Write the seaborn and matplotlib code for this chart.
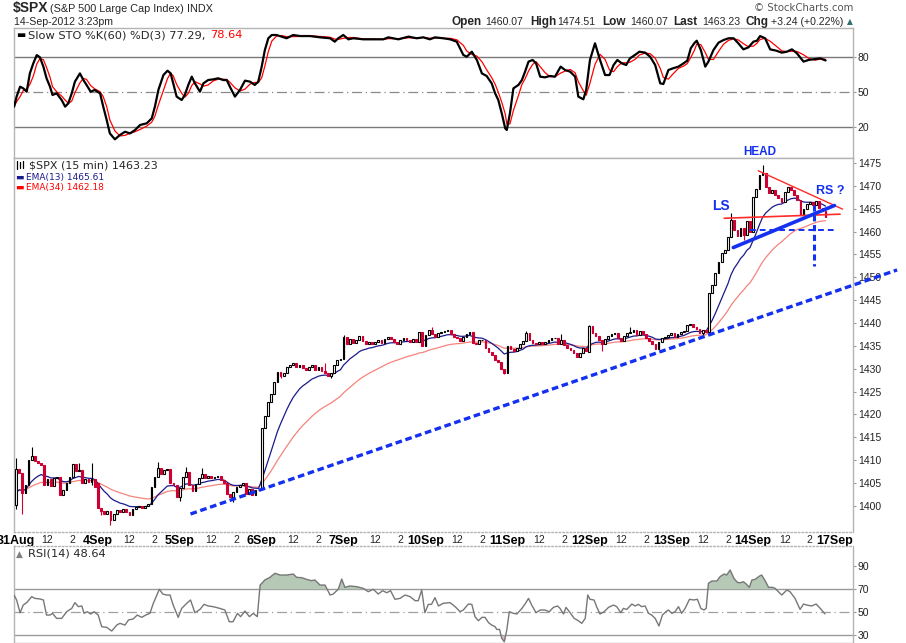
import matplotlib
matplotlib.use("Agg")
import matplotlib.pyplot as plt
import numpy as np
import pandas as pd
import seaborn as sns

W, H = 906, 643

# time axis: 15 min bars, 26 bars per session
day_names = ["31Aug", "4Sep", "5Sep", "6Sep", "7Sep", "10Sep", "11Sep", "12Sep", "13Sep", "14Sep", "17Sep"]
bars_per_day = 26
intraday_ticks = {10: "12", 18: "2"}

# first open of each session
day_opens = [1400.1, 1404.9, 1402.0, 1403.7, 1432.1, 1434.9, 1429.1, 1433.6, 1437.3, 1460.0]

# closes per session
close_aug31 = [1408.0, 1407.1, 1402.7, 1404.5, 1410.0, 1410.8, 1409.8, 1409.4, 1409.0, 1404.5,
               1405.8, 1404.3, 1406.0, 1406.4, 1402.4, 1403.4, 1405.0, 1406.4, 1409.2, 1407.6,
               1407.9, 1404.9, 1405.8, 1405.2, 1405.8, 1404.2]
close_sep04 = [1399.5, 1398.8, 1398.3, 1398.8, 1396.9, 1398.2, 1399.1, 1398.6, 1399.4, 1398.7,
               1398.0, 1399.4, 1399.8, 1400.0, 1399.6, 1400.0, 1400.3, 1404.2, 1406.4, 1408.2,
               1407.0, 1407.8, 1408.0, 1405.0, 1404.5, 1402.0]
close_sep05 = [1403.8, 1406.4, 1407.3, 1404.5, 1403.2, 1404.7, 1406.0, 1406.9, 1406.0, 1406.6,
               1406.0, 1406.4, 1406.6, 1405.6, 1404.9, 1402.5, 1402.0, 1403.0, 1404.2, 1404.6,
               1404.9, 1402.5, 1403.7, 1402.4, 1403.5, 1403.4]
close_sep06 = [1417.0, 1419.6, 1422.7, 1424.5, 1427.0, 1429.3, 1428.3, 1429.1, 1430.4, 1430.7,
               1431.2, 1430.3, 1430.9, 1430.1, 1429.6, 1430.4, 1430.9, 1429.7, 1430.3, 1429.5,
               1429.0, 1428.5, 1429.0, 1430.8, 1432.0, 1432.1]
close_sep07 = [1437.0, 1435.3, 1436.4, 1435.6, 1436.2, 1437.2, 1436.0, 1435.4, 1435.9, 1435.3,
               1435.9, 1436.2, 1435.6, 1436.5, 1437.0, 1436.4, 1435.8, 1435.5, 1436.2, 1436.8,
               1436.3, 1435.9, 1436.4, 1435.9, 1438.0, 1434.9]
close_sep10 = [1437.4, 1438.5, 1437.6, 1437.0, 1437.8, 1438.0, 1438.3, 1438.5, 1437.5, 1436.9,
               1436.6, 1436.1, 1437.0, 1437.6, 1438.0, 1435.6, 1435.4, 1436.2, 1436.3, 1434.6,
               1433.6, 1433.0, 1432.0, 1431.5, 1430.0, 1429.1]
close_sep11 = [1434.9, 1434.4, 1433.8, 1434.6, 1435.5, 1436.0, 1437.9, 1436.3, 1435.7, 1435.3,
               1435.9, 1435.4, 1435.9, 1436.3, 1436.6, 1436.8, 1435.3, 1436.2, 1435.1, 1434.5,
               1434.1, 1433.4, 1432.6, 1433.4, 1434.5, 1433.9]
close_sep12 = [1439.3, 1437.8, 1437.1, 1436.3, 1435.3, 1436.5, 1437.2, 1437.6, 1437.8, 1436.8,
               1436.0, 1437.1, 1437.7, 1438.1, 1438.4, 1437.4, 1438.2, 1437.6, 1436.8, 1436.0,
               1435.5, 1434.2, 1435.9, 1436.6, 1437.0, 1437.3]
close_sep13 = [1437.8, 1437.0, 1437.6, 1438.1, 1438.2, 1439.6, 1439.8, 1439.2, 1438.6, 1437.8,
               1438.4, 1438.0, 1446.5, 1448.2, 1451.0, 1453.4, 1455.4, 1455.9, 1458.9, 1462.6,
               1460.3, 1459.0, 1460.8, 1459.2, 1462.3, 1460.0]
close_sep14 = [1467.6, 1469.4, 1472.4, 1472.7, 1469.8, 1468.5, 1469.0, 1468.0, 1467.4, 1466.5,
               1468.7, 1469.7, 1469.0, 1468.0, 1466.9, 1463.6, 1465.0, 1466.0, 1466.5, 1465.9,
               1466.6, 1465.2, 1464.4, 1463.2]

# bars with visible wicks: bar -> (low, high)
wicks = {0: (1399.4, 1410.4), 2: (1398.3, 1407.1), 5: (1410.0, 1412.8), 20: (1407.6, 1409.3),
         24: (1404.5, 1409.3), 27: (1398.0, 1399.5), 30: (1395.8, 1398.8), 45: (1406.4, 1409.5),
         52: (1401.0, 1403.8), 54: (1406.4, 1408.5), 59: (1406.0, 1408.3), 69: (1400.9, 1403.0),
         84: (1427.9, 1429.3), 98: (1429.0, 1431.2), 100: (1428.0, 1429.0), 104: (1432.1, 1437.4),
         132: (1437.6, 1439.2), 155: (1428.8, 1430.0), 162: (1436.0, 1438.3), 173: (1435.3, 1437.5),
         182: (1433.6, 1439.6), 186: (1433.9, 1436.3), 195: (1437.7, 1439.2), 218: (1437.3, 1438.4),
         227: (1458.9, 1464.0), 231: (1458.1, 1460.8), 237: (1472.4, 1474.5)}

# EMA values at the left edge of the chart
ema13_start = 1402.0
ema34_start = 1403.0

# Slow STO %K(60) (bar, value)
sto_k_points = [(-0.6, 37.7), (0.2, 46.3), (1.3, 54.8), (2.3, 53.4), (3.4, 50.5), (4.4, 66.2), (5.5, 74.8),
    (6.6, 81.9), (7.6, 80.0), (8.7, 72.0), (9.7, 62.0), (10.8, 54.8), (11.6, 47.7), (12.9, 49.1),
    (14.5, 43.4), (15.6, 37.7), (16.6, 40.5), (17.7, 49.1), (18.7, 59.1), (20.3, 66.2), (21.4, 60.5),
    (22.4, 56.3), (23.7, 50.5), (25.0, 52.0), (26.7, 49.1), (27.7, 37.7), (28.8, 26.2), (29.8, 14.8),
    (31.4, 9.7), (33.0, 13.4), (34.6, 16.2), (36.2, 14.8), (37.8, 17.7), (39.4, 22.0), (41.5, 23.4),
    (43.1, 27.7), (44.1, 37.7), (45.2, 52.0), (46.8, 64.8), (48.1, 68.5), (49.1, 66.2), (49.9, 57.7),
    (51.0, 46.3), (52.6, 43.4), (53.6, 47.7), (54.7, 56.3), (55.8, 63.4), (56.8, 57.7), (58.4, 50.5),
    (59.5, 57.7), (61.0, 60.5), (62.6, 61.1), (64.2, 62.0), (65.8, 60.5), (66.9, 60.5), (67.9, 54.8),
    (69.5, 46.3), (71.1, 52.0), (72.7, 60.0), (74.3, 59.1), (75.8, 56.3), (76.9, 59.1), (78.0, 72.0),
    (79.0, 86.2), (80.1, 96.3), (81.2, 99.1), (82.7, 99.1), (84.3, 97.7), (85.9, 96.3), (88.0, 99.1),
    (90.2, 98.2), (93.3, 98.2), (96.5, 97.1), (99.7, 96.3), (101.2, 93.4), (102.3, 96.3), (103.9, 99.1),
    (105.5, 95.4), (107.1, 96.3), (110.3, 95.4), (113.4, 95.4), (116.6, 95.4), (118.2, 97.1),
    (121.4, 95.4), (124.6, 97.7), (127.2, 96.3), (129.3, 97.1), (131.4, 95.4), (133.0, 97.1),
    (135.6, 96.3), (137.8, 95.4), (139.9, 93.4), (142.0, 82.0), (143.1, 80.5), (144.7, 84.8),
    (146.3, 77.7), (147.9, 66.2), (149.4, 64.0), (151.0, 57.7), (152.1, 49.1), (153.1, 43.4),
    (154.2, 32.0), (155.3, 19.1), (155.8, 17.7), (156.8, 32.0), (157.9, 53.4), (159.5, 56.3),
    (160.6, 60.5), (161.6, 67.7), (162.7, 76.3), (164.0, 77.7), (165.1, 74.8), (166.4, 63.4),
    (167.9, 62.8), (169.5, 64.0), (171.1, 63.4), (172.9, 72.0), (174.3, 69.1), (175.9, 67.7),
    (177.5, 63.4), (178.5, 46.3), (180.1, 44.0), (181.0, 52.0), (182.2, 77.7), (183.8, 92.0),
    (185.4, 77.7), (187.0, 64.8), (188.4, 64.8), (189.7, 73.4), (190.9, 77.7), (192.3, 74.8),
    (193.7, 73.4), (194.9, 79.1), (196.5, 82.0), (197.9, 84.8), (199.7, 84.0), (201.3, 80.5),
    (202.9, 73.4), (204.5, 57.7), (205.5, 57.1), (207.1, 69.1), (208.5, 70.5), (210.3, 72.0),
    (211.9, 74.8), (213.1, 77.1), (214.2, 87.7), (215.3, 92.0), (216.1, 94.2), (217.4, 86.2),
    (218.8, 72.0), (219.8, 76.3), (221.4, 86.2), (223.0, 92.5), (224.6, 94.8), (226.2, 96.3),
    (227.8, 96.3), (229.3, 92.0), (230.9, 86.8), (232.5, 88.5), (234.1, 93.4), (235.2, 94.2),
    (236.2, 98.2), (237.8, 96.3), (239.4, 86.8), (241.3, 85.7), (243.1, 84.0), (244.7, 84.8),
    (246.3, 86.8), (247.9, 83.4), (250.0, 76.3), (251.6, 77.7), (253.7, 78.5), (255.3, 79.1),
    (257.0, 77.3)]

# RSI(14) (bar, value)
rsi_points = [(-0.6, 65.0), (0.2, 60.7), (1.3, 49.6), (2.3, 56.3), (3.4, 58.4), (5.0, 63.6), (6.0, 62.1),
    (7.6, 61.6), (8.7, 60.7), (9.7, 47.6), (10.8, 47.6), (11.6, 49.1), (12.9, 44.7), (14.5, 44.7),
    (16.1, 50.5), (17.7, 53.4), (18.7, 58.4), (19.8, 54.9), (20.9, 55.5), (21.6, 49.1), (22.6, 50.5),
    (23.7, 48.5), (24.8, 50.5), (26.1, 47.6), (27.2, 37.5), (28.8, 36.9), (30.4, 33.7), (32.0, 38.9),
    (33.0, 40.4), (34.6, 38.9), (35.7, 43.3), (37.2, 44.2), (38.5, 47.6), (39.9, 45.6), (41.2, 47.6),
    (42.5, 49.1), (43.6, 57.8), (44.7, 65.0), (45.5, 70.0), (46.6, 65.9), (47.8, 65.0), (48.9, 65.0),
    (49.9, 56.3), (51.5, 45.6), (52.6, 53.4), (54.2, 57.8), (55.4, 60.7), (56.8, 49.6), (58.4, 52.5),
    (59.7, 56.9), (61.0, 55.5), (62.6, 54.9), (64.7, 53.4), (66.3, 52.0), (67.7, 41.8), (68.9, 41.8),
    (70.3, 49.1), (71.3, 46.2), (72.7, 51.1), (74.1, 46.2), (75.3, 49.1), (76.6, 46.2), (77.5, 73.7),
    (79.0, 78.1), (80.6, 80.4), (82.2, 83.9), (83.8, 82.4), (85.9, 82.4), (88.0, 83.3), (89.1, 80.4),
    (90.7, 80.1), (92.3, 78.6), (93.8, 77.5), (94.9, 78.1), (96.5, 73.7), (98.1, 73.7), (99.7, 65.0),
    (100.7, 65.9), (102.3, 70.0), (103.4, 78.9), (104.4, 71.7), (106.0, 72.9), (108.1, 72.3),
    (110.3, 70.8), (111.8, 67.9), (113.4, 70.0), (115.0, 65.9), (116.4, 68.8), (117.7, 67.0),
    (118.9, 68.8), (120.3, 61.3), (121.9, 62.1), (123.5, 65.0), (125.1, 63.6), (126.7, 60.1),
    (127.7, 60.1), (128.8, 69.4), (129.8, 49.6), (130.9, 56.9), (131.9, 56.9), (133.0, 62.7),
    (134.1, 55.5), (135.6, 57.8), (137.8, 58.4), (139.4, 54.9), (141.0, 50.5), (142.0, 52.0),
    (143.6, 57.2), (144.7, 56.9), (145.7, 46.2), (146.8, 42.7), (147.9, 45.6), (148.9, 45.6),
    (150.0, 41.0), (151.0, 38.9), (152.1, 37.5), (152.6, 35.1), (153.5, 35.1), (154.2, 27.3),
    (155.0, 24.4), (155.8, 34.6), (156.6, 50.5), (157.9, 49.1), (159.0, 48.5), (160.6, 53.4),
    (161.6, 57.2), (162.7, 62.1), (163.7, 56.3), (165.1, 49.6), (166.4, 52.0), (167.9, 52.0),
    (169.3, 50.5), (170.6, 54.3), (171.9, 55.5), (172.7, 53.4), (173.8, 48.5), (174.6, 54.3),
    (175.9, 49.6), (177.2, 44.7), (178.5, 42.7), (179.6, 40.4), (180.7, 44.7), (181.5, 65.0),
    (182.2, 61.3), (183.5, 60.7), (184.4, 54.3), (185.4, 48.5), (186.7, 50.5), (188.1, 54.3),
    (189.7, 56.3), (190.7, 54.9), (192.0, 49.6), (192.8, 53.4), (193.9, 52.5), (195.5, 57.2),
    (196.5, 55.5), (197.6, 56.9), (198.6, 54.9), (199.7, 55.5), (200.8, 49.1), (201.8, 47.6),
    (202.9, 44.7), (204.1, 38.1), (205.2, 47.6), (206.3, 50.5), (207.1, 52.0), (208.2, 49.1),
    (209.2, 50.5), (210.3, 54.9), (211.3, 49.1), (212.4, 53.4), (213.8, 61.3), (215.1, 60.7),
    (216.3, 61.3), (217.4, 53.4), (218.4, 52.0), (219.1, 53.4), (219.8, 75.2), (220.9, 77.2),
    (222.5, 77.2), (223.5, 81.0), (224.8, 83.3), (225.6, 82.4), (226.7, 86.8), (227.9, 79.5),
    (229.0, 76.0), (229.9, 75.7), (230.9, 76.6), (231.8, 74.6), (232.8, 71.7), (233.6, 78.1),
    (234.6, 78.6), (236.0, 81.5), (236.7, 82.4), (237.8, 77.5), (238.9, 71.7), (240.2, 71.7),
    (241.0, 70.8), (242.0, 67.9), (243.1, 65.0), (244.7, 69.4), (245.7, 67.9), (247.3, 62.1),
    (248.9, 52.5), (250.0, 57.2), (251.0, 56.3), (252.6, 55.5), (254.0, 57.2), (255.3, 53.4),
    (256.8, 48.6)]

# hand-drawn annotations (bar, price)
trend_line = [(55.4, 1398.2), (279.7, 1451.6)]
head_top_line = [(235.6, 1473.3), (262.4, 1464.9)]
neck_line = [(224.8, 1462.9), (261.6, 1463.8)]
rising_line = [(227.7, 1456.5), (259.8, 1465.7)]
target_hline = [(233.0, 1460.3), (259.7, 1460.3)]
target_vline = [(253.4, 1465.8), (253.4, 1452.5)]
labels_pattern = [("HEAD", 236.0, 1477.4, 8.5), ("LS", 223.8, 1465.5, 10), ("RS ?", 258.5, 1468.9, 9)]

RED = "#cc0033"
BLUE = "#1430f0"

sns.set_style("white")
plt.rcParams["font.family"] = ["DejaVu Sans"]

fig = plt.figure(figsize=(W / 100, H / 100), dpi=100)


def px_axes(left, top, right, bottom):
    return fig.add_axes([left / W, 1 - bottom / H, (right - left) / W, (bottom - top) / H])


def ftext(x, y, s, **kw):
    kw.setdefault("va", "center")
    fig.text(x / W, 1 - y / H, s, **kw)


ax_sto = px_axes(14, 28, 853, 158)
ax = px_axes(14, 158, 853, 532)
ax_rsi = px_axes(14, 546, 853, 643)

for a in (ax_sto, ax, ax_rsi):
    a.set_xlim(-0.63, 265.7)
    for s in a.spines.values():
        s.set_color("#b4b4b4")
        s.set_linewidth(1)
    a.yaxis.tick_right()
    a.tick_params(axis="y", length=2, width=0.8, color="#999999", labelsize=7.5,
                  labelcolor="#222222", pad=1.5)
    a.tick_params(axis="x", length=0)
    a.set_xlabel("")
    a.set_ylabel("")

# ---- price candles
closes = np.array(close_aug31 + close_sep04 + close_sep05 + close_sep06 + close_sep07 +
                  close_sep10 + close_sep11 + close_sep12 + close_sep13 + close_sep14)
bars = np.arange(len(closes))
opens = np.r_[np.nan, closes[:-1]]
for d, o in enumerate(day_opens):
    opens[d * bars_per_day] = o
lows = np.minimum(opens, closes)
highs = np.maximum(opens, closes)
for b, (lo, hi) in wicks.items():
    lows[b] = lo
    highs[b] = hi
up = closes >= opens

ax.vlines(bars[up], lows[up], highs[up], color="black", lw=0.8, zorder=3)
ax.vlines(bars[~up], lows[~up], highs[~up], color=RED, lw=0.8, zorder=3)
ax.bar(bars[up], closes[up] - opens[up], bottom=opens[up], width=0.55,
       facecolor="white", edgecolor="black", lw=0.8, zorder=4)
ax.bar(bars[~up], closes[~up] - opens[~up], bottom=opens[~up], width=0.55,
       facecolor=RED, edgecolor=RED, lw=0.8, zorder=4)

ema13 = pd.Series(np.r_[ema13_start, closes]).ewm(span=13, adjust=False).mean().values[1:]
ema34 = pd.Series(np.r_[ema34_start, closes]).ewm(span=34, adjust=False).mean().values[1:]
sns.lineplot(x=bars, y=ema34, ax=ax, color="#f4847c", linewidth=0.9, zorder=2)
sns.lineplot(x=bars, y=ema13, ax=ax, color="#1a1a8c", linewidth=0.9, zorder=2)

ax.set_ylim(1394.26, 1476.09)
ax.set_yticks(np.arange(1400, 1476, 5))

# annotations
(x0, y0), (x1, y1) = trend_line
ax.plot([x0, x1], [y0, y1], color=BLUE, lw=2.4, ls=(0, (2, 1.1)), clip_on=False, zorder=5)
for seg, col, lw, ls in [(head_top_line, "#ff2a2a", 1.0, "-"), (neck_line, "#ff2a2a", 1.2, "-"),
                         (rising_line, BLUE, 2.6, "-"), (target_hline, BLUE, 1.4, (0, (3, 2))),
                         (target_vline, BLUE, 2.2, (0, (2, 1.2)))]:
    (x0, y0), (x1, y1) = seg
    ax.plot([x0, x1], [y0, y1], color=col, lw=lw, ls=ls, zorder=6)
for txt, bx, py, fs in labels_pattern:
    ax.text(bx, py, txt, color=BLUE, fontsize=fs, fontweight="bold", family="Liberation Sans",
            ha="center", va="center", clip_on=False, zorder=7)

# time axis labels between price and RSI panels
ticks, tick_labels, is_day = [], [], []
for d, name in enumerate(day_names):
    start = d * bars_per_day
    ticks.append(start)
    tick_labels.append(name)
    is_day.append(True)
    if d < len(day_names) - 1:
        for off, t in intraday_ticks.items():
            ticks.append(start + off)
            tick_labels.append(t)
            is_day.append(False)
ax.set_xticks(ticks)
ax.set_xticklabels(tick_labels)
ax.tick_params(axis="x", pad=2.5)
for lbl, day in zip(ax.get_xticklabels(), is_day):
    lbl.set_fontfamily("Liberation Sans")
    lbl.set_fontweight("bold" if day else "normal")
    lbl.set_fontsize(9 if day else 7.5)
    lbl.set_color("black" if day else "#222222")
ax.spines["bottom"].set_linestyle(":")
ax_rsi.spines["top"].set_linestyle(":")

# ---- stochastic panel
sto_bars = [p[0] for p in sto_k_points]
sto_k = [p[1] for p in sto_k_points]
sto_d = pd.Series(sto_k).rolling(3, min_periods=1).mean().values
for lvl in (80, 20):
    ax_sto.axhline(lvl, color="#7a7a7a", lw=1, zorder=1)
ax_sto.axhline(50, color="#8a8a8a", lw=0.9, ls=(0, (8, 3, 1, 3)), zorder=1)
sns.lineplot(x=sto_bars, y=sto_d, ax=ax_sto, color="#ff0000", linewidth=0.9, zorder=2)
sns.lineplot(x=sto_bars, y=sto_k, ax=ax_sto, color="black", linewidth=1.6, zorder=3)
ax_sto.set_ylim(-6.3, 105.1)
ax_sto.set_yticks([20, 50, 80])
ax_sto.set_xticks([])

# ---- RSI panel
rsi_bars = np.array([p[0] for p in rsi_points])
rsi_vals = np.array([p[1] for p in rsi_points])
for lvl in (70, 30):
    ax_rsi.axhline(lvl, color="#9a9a9a", lw=1, zorder=1)
ax_rsi.axhline(50, color="#a0a0a0", lw=0.9, ls=(0, (8, 3, 1, 3)), zorder=1)
ax_rsi.fill_between(rsi_bars, rsi_vals, 70, where=rsi_vals >= 70, interpolate=True,
                    color="#b6c8b6", lw=0, zorder=2)
ax_rsi.fill_between(rsi_bars, rsi_vals, 30, where=rsi_vals <= 30, interpolate=True,
                    color="#dcb8c2", lw=0, zorder=2)
sns.lineplot(x=rsi_bars, y=rsi_vals, ax=ax_rsi, color="#777777", linewidth=1.0, zorder=3)
ax_rsi.set_ylim(23.3, 107.65)
ax_rsi.set_yticks([30, 50, 70, 90])
ax_rsi.set_xticks([])

for a in (ax_sto, ax, ax_rsi):
    for lbl in a.get_yticklabels():
        lbl.set_fontfamily("Liberation Sans")

# ---- header and panel legends
ftext(13, 8, "$SPX", fontsize=10, fontweight="bold", family="Liberation Sans")
ftext(50, 8.5, "(S&P 500 Large Cap Index)", fontsize=7.8, family="Liberation Sans")
ftext(187, 8.5, "INDX", fontsize=7.8, family="Liberation Sans")
ftext(14, 22, "14-Sep-2012 3:23pm", fontsize=7.6, family="Liberation Sans")
ftext(853, 8, "\u00a9 StockCharts.com", fontsize=7.3, color="#555555", ha="right")
for x, s, bold in [(452, "Open", True), (485, "1460.07", False), (530, "High", True),
                   (557, "1474.51", False), (602, "Low", True), (630, "1460.07", False),
                   (673, "Last", True), (702, "1463.23", False), (745, "Chg", True),
                   (771, "+3.24 (+0.22%)", False)]:
    ftext(x, 22, s, fontsize=8.5 if bold else 7.6, fontweight="bold" if bold else "normal",
          family="Liberation Sans")
ftext(847, 22, "\u25b2", fontsize=5.5, color="#2f6f6f")

ftext(16, 35, "\u25ac", fontsize=7, color="black")
ftext(28, 35, "Slow STO %K(60) %D(3) 77.29,", fontsize=8.2)
ftext(210, 35, "78.64", fontsize=8.2, color="red")

for xi, y1, y2 in [(17, 161, 169), (20, 162, 168), (23, 161, 168)]:
    fig.add_artist(plt.Line2D([xi / W, xi / W], [1 - y1 / H, 1 - y2 / H], color="black", lw=0.9))
ftext(29, 165, "$SPX (15 min) 1463.23", fontsize=8)
ftext(15, 177, "\u25ac", fontsize=6.5, color="#1a1a8c")
ftext(26, 177, "EMA(13) 1465.61", fontsize=6.5, color="#1a1a8c")
ftext(15, 187.5, "\u25ac", fontsize=6.5, color="red")
ftext(26, 187.5, "EMA(34) 1462.18", fontsize=6.5, color="red")

ftext(16, 554, "\u25b2", fontsize=6.5, color="#808080")
ftext(28, 554, "RSI(14) 48.64", fontsize=8.2)

fig.savefig("out.png", dpi=100)
